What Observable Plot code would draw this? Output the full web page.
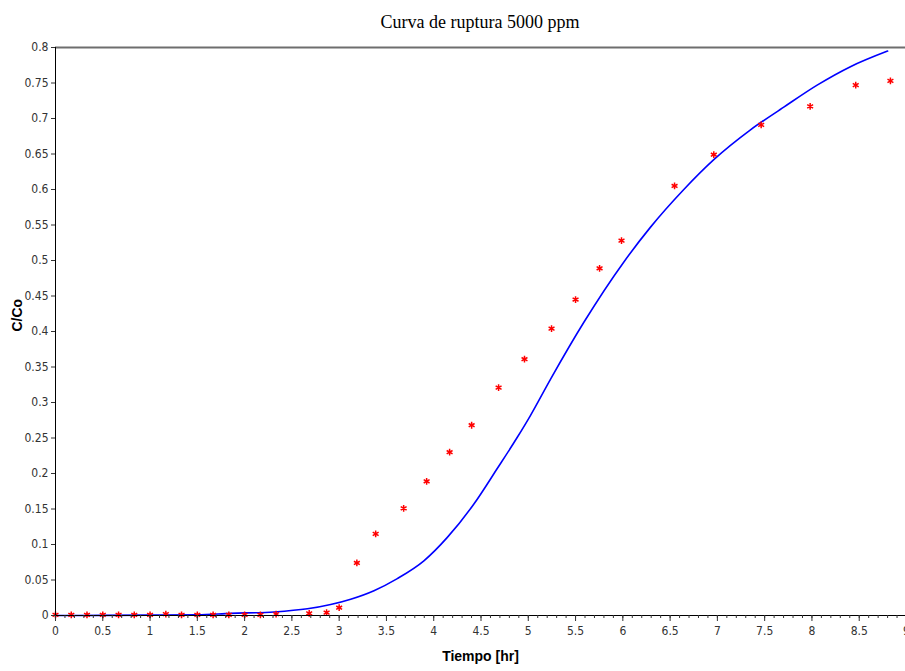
<!DOCTYPE html>
<html>
<head>
<meta charset="utf-8">
<script src="https://cdn.jsdelivr.net/npm/d3@7"></script>
<script src="https://cdn.jsdelivr.net/npm/@observablehq/plot@0.6"></script>
<style>
  html, body { margin: 0; padding: 0; background: #fff; overflow: hidden; }
  #title {
    width: 905px; height: 40px; box-sizing: border-box; padding-top: 13px;
    text-align: center; font-family: "Liberation Serif", "Times New Roman", serif;
    font-size: 18px; line-height: 18px; color: #000; padding-left: 55px;
  }
  #chart svg { display: block; }
</style>
</head>
<body>
<div id="title">Curva de ruptura 5000 ppm</div>
<div id="chart"></div>
<script>
// Experimental data (red asterisks)
const tiempoExp = [0, 0.167, 0.333, 0.5, 0.667, 0.833, 1, 1.167, 1.333, 1.5, 1.667, 1.833, 2, 2.167, 2.333, 2.683, 2.867, 3, 3.187, 3.386, 3.682, 3.925, 4.168, 4.401, 4.686, 4.96, 5.246, 5.5, 5.754, 5.986, 6.547, 6.962, 7.463, 7.981, 8.463, 8.83];
const ccoExp = [0.001, 0.001, 0.001, 0.001, 0.001, 0.001, 0.001, 0.002, 0.001, 0.001, 0.001, 0.001, 0.001, 0.001, 0.002, 0.003, 0.004, 0.011, 0.074, 0.115, 0.151, 0.189, 0.230, 0.268, 0.321, 0.361, 0.404, 0.445, 0.489, 0.528, 0.605, 0.649, 0.691, 0.717, 0.747, 0.753];

// Model curve (blue line)
const tiempoModelo = [0, 0.5, 1, 1.5, 1.853, 2.311, 2.664, 2.91, 3.122, 3.368, 3.615, 3.896, 4.144, 4.425, 4.672, 4.884, 5.024, 5.236, 5.588, 6.011, 6.293, 6.645, 6.962, 7.35, 7.702, 8.055, 8.407, 8.8];
const ccoModelo = [0, 0.0002, 0.0005, 0.001, 0.003, 0.0050, 0.0094, 0.0155, 0.023, 0.035, 0.052, 0.077, 0.110, 0.157, 0.207, 0.251, 0.282, 0.333, 0.413, 0.498, 0.547, 0.600, 0.642, 0.684, 0.716, 0.747, 0.773, 0.795];

// Ticks
const xTicks = [0, 0.5, 1, 1.5, 2, 2.5, 3, 3.5, 4, 4.5, 5, 5.5, 6, 6.5, 7, 7.5, 8, 8.5, 9];
const xMinorTicks = d3.range(0, 91).map(i => i / 10);
const yTicks = [0, 0.05, 0.1, 0.15, 0.2, 0.25, 0.3, 0.35, 0.4, 0.45, 0.5, 0.55, 0.6, 0.65, 0.7, 0.75, 0.8];

const expData = tiempoExp.map((t, i) => ({t, c: ccoExp[i]}));
const modelData = tiempoModelo.map((t, i) => ({t, c: ccoModelo[i]}));

const tickFont = "'Liberation Sans Narrow', 'Arial Narrow', 'DejaVu Sans Condensed', sans-serif";
const fmt = d => String(+d.toFixed(2));

const chart = Plot.plot({
  width: 905,
  height: 631,
  marginTop: 7,
  marginBottom: 56,
  marginLeft: 55,
  marginRight: 0,
  style: {background: "#fff", fontFamily: tickFont, fontSize: "12px", color: "#333", overflow: "hidden"},
  x: {domain: [0, 9], range: [55, 906]},
  y: {domain: [0, 0.8]},
  marks: [
    Plot.ruleY([0.8], {stroke: "#6e6e6e", strokeWidth: 2}),
    Plot.line(modelData, {x: "t", y: "c", stroke: "#0000ff", strokeWidth: 1.6, curve: "monotone-x"}),
    Plot.dot(expData, {x: "t", y: "c", symbol: "asterisk", r: 3.2, stroke: "#ff0000", strokeWidth: 1.5}),
    Plot.ruleX([0], {stroke: "#000", strokeWidth: 1}),
    Plot.ruleY([0], {stroke: "#000", strokeWidth: 1}),
    Plot.axisX(xMinorTicks, {anchor: "bottom", tickSize: 3, tickFormat: () => "", label: null, stroke: "#333"}),
    Plot.axisX(xTicks, {anchor: "bottom", tickSize: 6, tickPadding: 5, tickFormat: fmt, label: null, stroke: "#333", fill: "#333"}),
    Plot.axisY(yTicks, {anchor: "left", tickSize: 4, tickPadding: 3, tickFormat: fmt, label: null, stroke: "#333", fill: "#333"}),
    Plot.text(["Tiempo [hr]"], {frameAnchor: "bottom", dy: 45, fontWeight: "bold", fontSize: 14, fontFamily: "'Liberation Sans', Arial, sans-serif", fill: "#000"}),
    Plot.text(["C/Co"], {frameAnchor: "left", dx: -38, rotate: -90, fontWeight: "bold", fontSize: 14, fontFamily: "'Liberation Sans', Arial, sans-serif", fill: "#000"})
  ]
});
document.getElementById("chart").appendChild(chart);
</script>
</body>
</html>
